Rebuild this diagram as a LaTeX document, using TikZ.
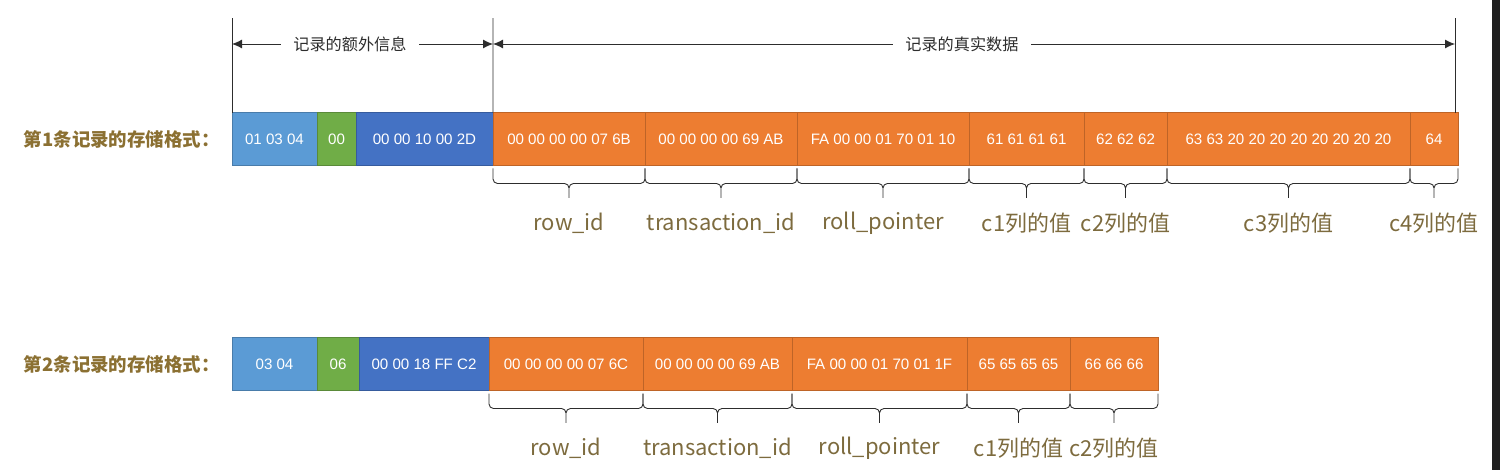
\documentclass[tikz,border=0pt]{standalone}
\usepackage{fontspec}
\setmainfont{Liberation Sans}
\newfontfamily\cjk{Noto Sans CJK SC}
\usetikzlibrary{positioning,arrows.meta,calc}
\definecolor{lblue}{RGB}{91,155,213}
\definecolor{dgreen}{RGB}{112,173,71}
\definecolor{dblue}{RGB}{68,114,196}
\definecolor{orng}{RGB}{237,125,49}
\definecolor{gold}{RGB}{139,112,50}
\definecolor{olive}{RGB}{125,107,62}
\definecolor{ink}{RGB}{45,45,45}
\begin{document}
\begin{tikzpicture}[x=0.02cm,y=-0.02cm,
    cell/.style={fill=#1,draw=#1!80!black,line width=0.3pt,text=white,inner sep=0pt,outer sep=0pt,
      minimum height=1.06cm,anchor=west,font=\fontsize{8.6}{10}\selectfont},
    w/.style={minimum width=#1*0.02cm},
    rowlbl/.style={anchor=east,inner sep=0pt,text=gold,font=\cjk\bfseries\fontsize{10.5}{12}\selectfont},
    toplbl/.style={fill=white,inner sep=0pt,inner xsep=0.24cm,minimum height=0.4cm,text=ink,font=\cjk\fontsize{9.2}{11}\selectfont},
    collbl/.style={text=olive,inner sep=0pt,yshift=-1.16cm,font=\cjk\fontsize{12.5}{14}\selectfont},
    brc/.style={ink,line width=0.5pt,rounded corners=0.09cm,
      to path={([yshift=-0.06cm]\tikztostart) -- ([yshift=-0.36cm]\tikztostart)
        -- ($(\tikztostart)!0.5!(\tikztotarget)+(0,-0.36cm)$) -- ($(\tikztostart)!0.5!(\tikztotarget)+(0,-0.7cm)$)
        -- ($(\tikztostart)!0.5!(\tikztotarget)+(0,-0.36cm)$) -- ([yshift=-0.36cm]\tikztotarget)
        -- ([yshift=-0.06cm]\tikztotarget)}},
    dim/.style={{Latex[length=0.2cm,width=0.18cm]}-{Latex[length=0.2cm,width=0.18cm]},ink,line width=0.5pt}]
  \useasboundingbox (0,0) rectangle (1500,470);
  \fill[gray!25!black] (1492,0) rectangle (1500,470);

  \node[rowlbl] (r1) at (220,139) {第1条记录的存储格式：};
  \node[cell=lblue,w=85] (a1) at (232,139) {01 03 04};
  \node[cell=dgreen,w=39,right=0pt of a1] (a2) {00};
  \node[cell=dblue,w=137,right=0pt of a2] (a3) {00 00 10 00 2D};
  \node[cell=orng,w=152,right=0pt of a3] (b1) {00 00 00 00 07 6B};
  \node[cell=orng,w=152,right=0pt of b1] (b2) {00 00 00 00 69 AB};
  \node[cell=orng,w=172,right=0pt of b2] (b3) {FA 00 00 01 70 01 10};
  \node[cell=orng,w=115,right=0pt of b3] (b4) {61 61 61 61};
  \node[cell=orng,w=83,right=0pt of b4] (b5) {62 62 62};
  \node[cell=orng,w=243,right=0pt of b5] (b6) {63 63 20 20 20 20 20 20 20 20};
  \node[cell=orng,w=48,right=0pt of b6] (b7) {64};

  \coordinate (ta) at (232,18);
  \coordinate (tb) at (493,18);
  \coordinate (tc) at (1455,18);
  \coordinate (ea) at (232,44);
  \coordinate (eb) at (493,44);
  \coordinate (ec) at (1455,44);
  \draw[ink,line width=0.5pt] (ta) -- (a1.north west);
  \draw[ink,line width=0.5pt] (tb) -- (b1.north west);
  \draw[ink,line width=0.5pt] (tc) -- (tc |- b7.north);
  \draw[dim] (ea) -- node[toplbl,pos=0.452] {记录的额外信息} (eb);
  \draw[dim] (eb) -- node[toplbl,pos=0.4875] {记录的真实数据} (ec);

  \foreach \n/\t in {b1/row\_id,b2/transaction\_id,b3/roll\_pointer,b4/c1列的值,b5/c2列的值,b6/c3列的值,b7/c4列的值}{
    \draw[brc] (\n.south west) to (\n.south east);
    \node[collbl] (l\n) at (\n.south) {\t};
  }

  \node[rowlbl] (r2) at (220,364) {第2条记录的存储格式：};
  \node[cell=lblue,w=85] (c1) at (232,364) {03 04};
  \node[cell=dgreen,w=42,right=0pt of c1] (c2) {06};
  \node[cell=dblue,w=130,right=0pt of c2] (c3) {00 00 18 FF C2};
  \node[cell=orng,w=154,right=0pt of c3] (d1) {00 00 00 00 07 6C};
  \node[cell=orng,w=149,right=0pt of d1] (d2) {00 00 00 00 69 AB};
  \node[cell=orng,w=175,right=0pt of d2] (d3) {FA 00 00 01 70 01 1F};
  \node[cell=orng,w=103,right=0pt of d3] (d4) {65 65 65 65};
  \node[cell=orng,w=88,right=0pt of d4] (d5) {66 66 66};

  \foreach \n/\t in {d1/row\_id,d2/transaction\_id,d3/roll\_pointer,d4/c1列的值,d5/c2列的值}{
    \draw[brc] (\n.south west) to (\n.south east);
    \node[collbl] (l\n) at (\n.south) {\t};
  }
\end{tikzpicture}
\end{document}
